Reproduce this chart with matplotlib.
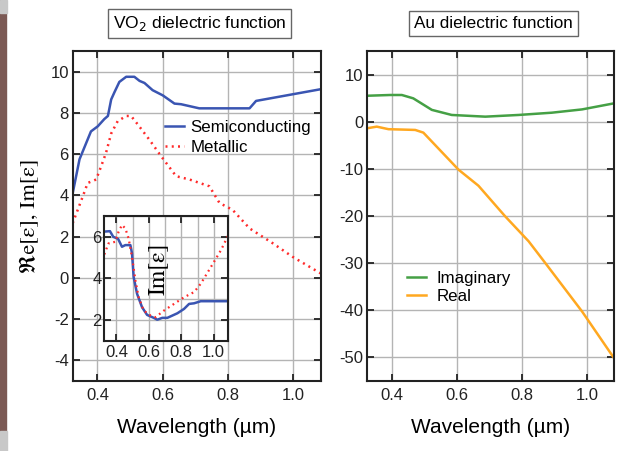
import matplotlib
matplotlib.use("Agg")
import matplotlib.pyplot as plt
from matplotlib.patches import Rectangle
from matplotlib.ticker import MultipleLocator

# --- data ---
vo2_semi_x = [0.324, 0.345, 0.38, 0.401, 0.421, 0.432, 0.442, 0.452, 0.467, 0.488, 0.513,
              0.529, 0.544, 0.569, 0.6, 0.636, 0.656, 0.712, 0.866, 0.886, 1.085]
vo2_semi_y = [4.1, 5.75, 7.1, 7.35, 7.7, 7.85, 8.65, 9.0, 9.5, 9.75, 9.75,
              9.55, 9.45, 9.1, 8.85, 8.45, 8.42, 8.22, 8.22, 8.58, 9.15]

vo2_met_x = [0.324, 0.355, 0.37, 0.396, 0.411, 0.426, 0.442, 0.462, 0.488, 0.503, 0.523,
             0.559, 0.595, 0.641, 0.682, 0.743, 0.774, 0.814, 0.866, 0.937, 0.998, 1.085]
vo2_met_y = [2.65, 3.95, 4.6, 4.77, 5.4, 6.05, 7.0, 7.6, 7.85, 7.85, 7.45,
             6.7, 5.9, 4.93, 4.77, 4.44, 3.63, 3.3, 2.4, 1.68, 1.02, 0.21]

inset_semi_x = [0.325, 0.36, 0.38, 0.41, 0.434, 0.455, 0.486, 0.496, 0.506, 0.527, 0.558,
                0.589, 0.63, 0.652, 0.683, 0.714, 0.776, 0.817, 0.848, 0.879, 0.92, 1.09]
inset_semi_y = [6.25, 6.27, 6.0, 5.9, 5.52, 5.6, 5.6, 5.2, 4.06, 3.26, 2.61,
                2.24, 2.1, 2.01, 2.1, 2.1, 2.32, 2.53, 2.77, 2.8, 2.9, 2.9]

inset_met_x = [0.325, 0.351, 0.393, 0.413, 0.434, 0.455, 0.475, 0.496, 0.517, 0.537, 0.568,
               0.61, 0.641, 0.693, 0.755, 0.817, 0.879, 0.92, 0.983, 1.045, 1.09]
inset_met_y = [5.15, 5.68, 5.76, 6.24, 6.57, 6.4, 5.92, 5.03, 3.9, 3.09, 2.45,
               2.21, 2.13, 2.45, 2.77, 3.09, 3.34, 3.74, 4.55, 5.36, 6.08]

au_imag_x = [0.325, 0.395, 0.431, 0.466, 0.523, 0.584, 0.687, 0.789, 0.891, 0.984, 1.083]
au_imag = [5.5, 5.66, 5.66, 4.95, 2.5, 1.42, 1.06, 1.42, 1.9, 2.6, 3.9]

au_real_x = [0.325, 0.354, 0.39, 0.472, 0.497, 0.605, 0.666, 0.748, 0.82, 0.871, 0.984, 1.083]
au_real = [-1.4, -1.06, -1.6, -1.76, -2.33, -10.2, -13.6, -20.1, -25.4, -30.0, -40.3, -50.3]

blue = '#3a55b2'
red = '#ff2b2b'
green = '#45a045'
orange = '#ffa820'
grid_col = '#b4b4b4'

plt.rcParams['font.family'] = ['Liberation Sans', 'DejaVu Sans']
plt.rcParams['axes.unicode_minus'] = False
serif = ['STIXGeneral', 'DejaVu Sans']

fig = plt.figure(figsize=(6.31, 4.51), dpi=100)
fig.patch.set_facecolor('white')

# screenshot edge on the left
fig.patches.append(Rectangle((0, 0), 6 / 631, 1, transform=fig.transFigure,
                             color='#7b5954', zorder=0))
fig.patches.append(Rectangle((0, 1 - 13 / 451), 7 / 631, 13 / 451, transform=fig.transFigure,
                             color='#c8c8c8', zorder=0))
fig.patches.append(Rectangle((0, 0), 7 / 631, 20 / 451, transform=fig.transFigure,
                             color='#c8c8c8', zorder=0))


def style_axes(ax, tick_size=12):
    for s in ax.spines.values():
        s.set_linewidth(1.5)
        s.set_color('#222222')
    ax.tick_params(which='both', direction='in', top=True, right=True,
                   labelsize=tick_size, length=5, width=1.3, colors='#222222')
    ax.tick_params(axis='x', pad=5)
    ax.tick_params(axis='y', pad=3)
    ax.tick_params(which='minor', length=0)
    ax.grid(True, which='both', color=grid_col, linewidth=1)
    ax.set_axisbelow(True)


dots = (0, (0.8, 1.7))

# --- left panel: VO2 ---
ax1 = fig.add_axes([73 / 631, 1 - 381 / 451, 248 / 631, 330 / 451])
ax1.plot(vo2_semi_x, vo2_semi_y, color=blue, lw=1.8, label='Semiconducting')
ax1.plot(vo2_met_x, vo2_met_y, color=red, lw=1.8, linestyle=dots, label='Metallic')
ax1.set_xlim(0.325, 1.085)
ax1.set_ylim(-5, 11)
ax1.yaxis.set_major_locator(MultipleLocator(2))
ax1.set_xticks([0.4, 0.6, 0.8, 1.0], ['0.4', '0.6', '0.8', '1.0'])
style_axes(ax1)
ax1.set_xlabel('Wavelength (\u00b5m)', fontsize=15, labelpad=11)
ax1.set_ylabel('\u211ce[\u03b5], Im[\u03b5]', fontsize=16, family=serif, labelpad=8)
ax1.legend(loc='upper left', bbox_to_anchor=(0.372, 0.79), frameon=False, fontsize=12.2,
           handlelength=1.1, handletextpad=0.4, borderpad=0, borderaxespad=0,
           labelspacing=0.25)

# --- inset ---
axi = fig.add_axes([104.3 / 631, 1 - 340.7 / 451, 124 / 631, 124.7 / 451])
axi.plot(inset_semi_x, inset_semi_y, color=blue, lw=1.8)
axi.plot(inset_met_x, inset_met_y, color=red, lw=1.6, linestyle=dots)
axi.set_xlim(0.325, 1.09)
axi.set_ylim(1, 7)
axi.xaxis.set_minor_locator(MultipleLocator(0.1))
axi.yaxis.set_major_locator(MultipleLocator(2))
axi.yaxis.set_minor_locator(MultipleLocator(1))
axi.set_xticks([0.4, 0.6, 0.8, 1.0], ['0.4', '0.6', '0.8', '1.0'])
style_axes(axi)
axi.tick_params(axis='x', pad=3)
axi.tick_params(axis='y', pad=2)
axi.text(0.43, 0.58, 'Im[\u03b5]', transform=axi.transAxes, rotation=90, fontsize=17,
         family=serif, ha='center', va='center')

# --- right panel: Au ---
ax2 = fig.add_axes([367.3 / 631, 1 - 380.7 / 451, 246.7 / 631, 329.7 / 451])
ax2.plot(au_imag_x, au_imag, color=green, lw=1.8, label='Imaginary')
ax2.plot(au_real_x, au_real, color=orange, lw=1.8, label='Real')
ax2.set_xlim(0.325, 1.082)
ax2.set_ylim(-55, 15)
ax2.yaxis.set_major_locator(MultipleLocator(10))
ax2.set_xticks([0.4, 0.6, 0.8, 1.0], ['0.4', '0.6', '0.8', '1.0'])
style_axes(ax2)
ax2.set_xlabel('Wavelength (\u00b5m)', fontsize=15, labelpad=11)
ax2.legend(loc='upper left', bbox_to_anchor=(0.161, 0.333), frameon=False, fontsize=12.2,
           handlelength=1.1, handletextpad=0.65, borderpad=0, borderaxespad=0,
           labelspacing=0.2)

# --- boxed titles ---
box = dict(boxstyle='square,pad=0.3', facecolor='white', edgecolor='#666666', linewidth=1)
fig.text(199.5 / 631, 1 - 23.5 / 451, 'VO$_2$ dielectric function', fontsize=12.5,
         ha='center', va='center', bbox=box)
fig.text(493 / 631, 1 - 23.5 / 451, 'Au dielectric function', fontsize=12.3,
         ha='center', va='center', bbox=box)

fig.savefig('out.png', dpi=100)
